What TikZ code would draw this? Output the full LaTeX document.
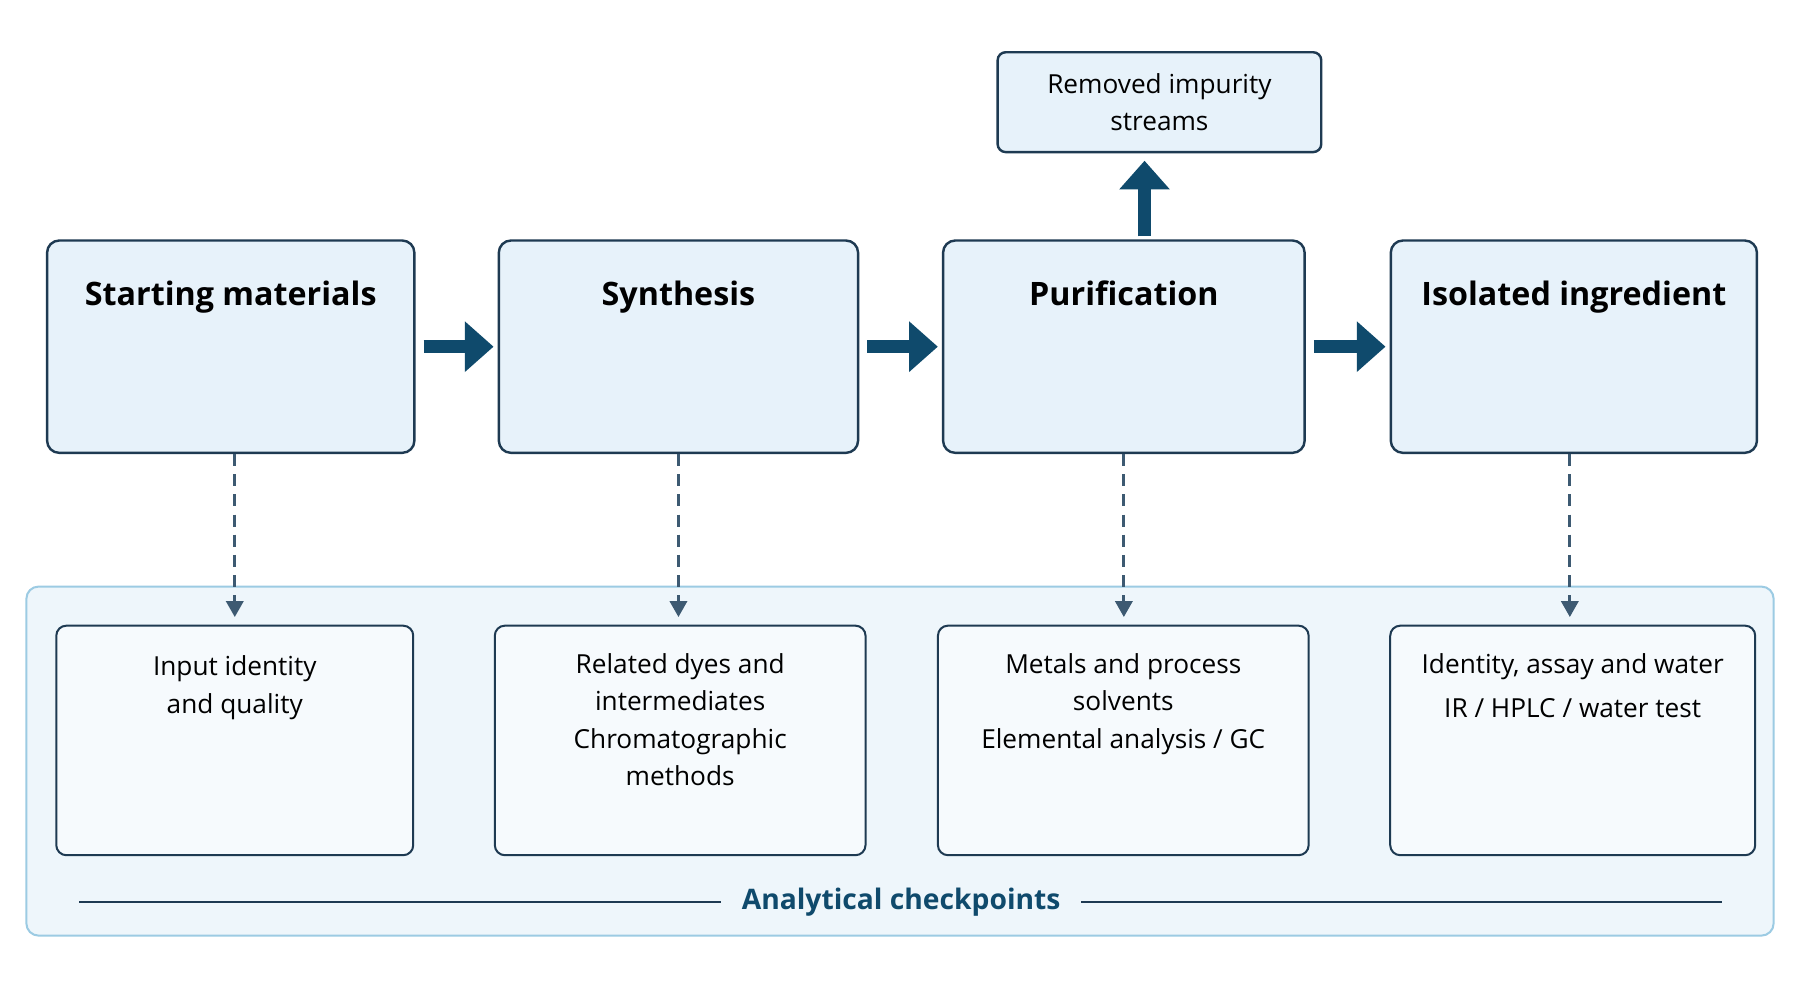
\documentclass[tikz,border=0pt]{standalone}
\usepackage{fontspec}
\setmainfont{Open Sans}
\usetikzlibrary{arrows.meta,positioning}
\definecolor{navy}{HTML}{1E3A52}
\definecolor{flow}{HTML}{0F4A6C}
\definecolor{boxfill}{HTML}{E7F2FA}
\definecolor{panel}{HTML}{EEF6FB}
\definecolor{panelline}{HTML}{9CCBE3}
\definecolor{probeline}{HTML}{3D5A72}
\tikzset{
  stage/.style={draw=navy, line width=1.2pt, rounded corners=6pt, fill=boxfill,
    minimum width=#1, minimum height=3.7cm, inner sep=0pt},
  check/.style={draw=navy, line width=1pt, rounded corners=5pt, fill=panel!50!white,
    minimum width=#1, minimum height=4cm, inner sep=0pt},
  title/.style={font=\bfseries\fontsize{16}{20}\selectfont, text=black, anchor=north},
  body/.style={font=\fontsize{13}{18.5}\selectfont, align=center, anchor=north, text=black},
  bigarrow/.style={-{Triangle[length=0.5cm,width=0.85cm]}, line width=0.22cm, flow},
  probe/.style={-{Triangle[length=0.28cm,width=0.3cm]}, dash pattern=on 6pt off 4pt,
    line width=1.6pt, probeline}
}
\begin{document}
\begin{tikzpicture}[x=0.02cm, y=-0.02cm]
  \useasboundingbox[fill=white] (0,0) rectangle (1568,871);

  % panel of checkpoints
  \draw[panelline, fill=panel, rounded corners=6pt, line width=1pt] (23,511) rectangle (1545,815);

  % stages
  \node[stage=6.4cm]  (start) at (201,302) {};
  \node[stage=6.26cm] (synth) at (591,302) {};
  \node[stage=6.3cm]  (purif) at (979,302) {};
  \node[stage=6.38cm] (iso)   at (1371,302) {};
  \node[title] at ([yshift=-0.6cm]start.north) {Starting materials};
  \node[title] at ([yshift=-0.6cm]synth.north) {Synthesis};
  \node[title] at ([yshift=-0.6cm]purif.north) {Purification};
  \node[title] at ([yshift=-0.6cm]iso.north) {Isolated ingredient};

  % impurity outlet
  \node[draw=navy, line width=1.2pt, rounded corners=4pt, fill=boxfill, minimum width=5.64cm,
    minimum height=1.74cm, align=center, font=\fontsize{13}{18.5}\selectfont]
    (waste) at (1010,89) {Removed impurity\\streams};

  % main flow
  \draw[bigarrow] ([xshift=4]start.east) -- ([xshift=-2]synth.west);
  \draw[bigarrow] ([xshift=4]synth.east) -- ([xshift=-2]purif.west);
  \draw[bigarrow] ([xshift=4]purif.east) -- ([xshift=-2]iso.west);
  \coordinate (up) at (997,206);
  \draw[bigarrow] (up) -- (up |- 0,140);

  % checkpoints
  \node[check=6.22cm] (c1) at (204.5,645) {};
  \node[check=6.46cm] (c2) at (592.5,645) {};
  \node[check=6.46cm] (c3) at (978.5,645) {};
  \node[check=6.36cm] (c4) at (1370,645) {};
  \node[body] at ([yshift=-0.42cm]c1.north) {Input identity\\and quality};
  \node[body] at ([yshift=-0.38cm]c2.north) {Related dyes and\\intermediates\\Chromatographic\\methods};
  \node[body] at ([yshift=-0.38cm]c3.north) {Metals and process\\solvents\\Elemental analysis / GC};
  \node[body, font=\fontsize{13}{22}\selectfont] at ([yshift=-0.38cm]c4.north) {Identity, assay and water\\IR / HPLC / water test};

  % probes
  \draw[probe] ([xshift=2]start.south) -- ++(0,142);
  \draw[probe] (synth.south) -- ++(0,142);
  \draw[probe] (purif.south) -- ++(0,142);
  \draw[probe] ([xshift=-2]iso.south) -- ++(0,142);

  % footer
  \node[font=\bfseries\fontsize{14}{18}\selectfont, text=flow] (foot) at (785,786) {Analytical checkpoints};
  \draw[navy, line width=1pt] (69,786) -- (628,786);
  \draw[navy, line width=1pt] (942,786) -- (1500,786);
\end{tikzpicture}
\end{document}
